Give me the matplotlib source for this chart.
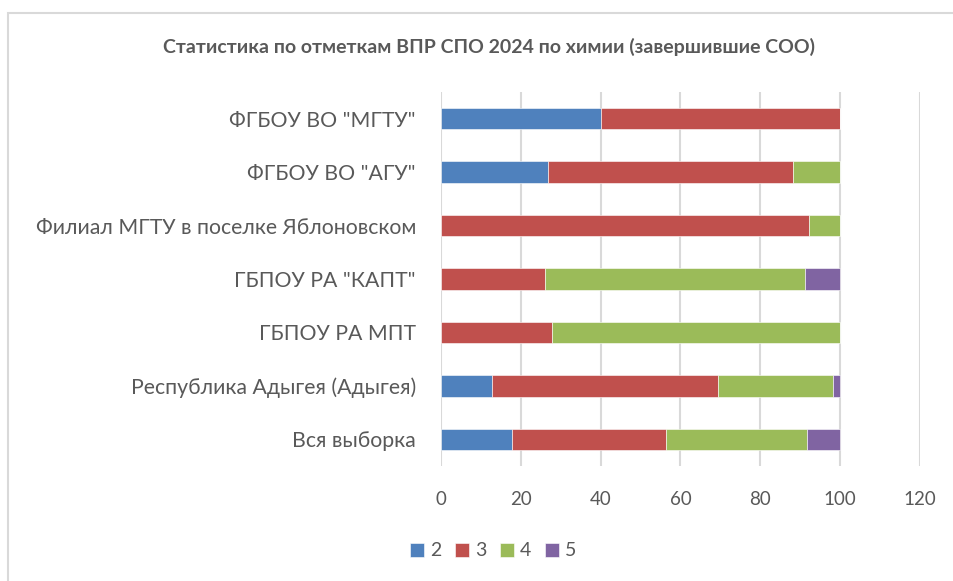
import matplotlib
matplotlib.use("Agg")
import matplotlib.pyplot as plt
from matplotlib.patches import Rectangle
import numpy as np

plt.rcParams['font.family'] = ['Lato', 'DejaVu Sans']

categories = ['Вся выборка', 'Республика Адыгея (Адыгея)', 'ГБПОУ РА МПТ',
              'ГБПОУ РА "КАПТ"', 'Филиал МГТУ в поселке Яблоновском',
              'ФГБОУ ВО "АГУ"', 'ФГБОУ ВО "МГТУ"']
series_names = ['2', '3', '4', '5']
s2 = [17.9, 12.8, 0.0, 0.0, 0.0, 26.9, 40.0]
s3 = [38.4, 56.5, 27.7, 26.0, 92.2, 61.4, 60.0]
s4 = [35.5, 29.0, 72.3, 65.2, 7.8, 11.7, 0.0]
s5 = [8.2, 1.7, 0.0, 8.8, 0.0, 0.0, 0.0]
x_ticks = [0, 20, 40, 60, 80, 100, 120]
title = 'Статистика по отметкам ВПР СПО 2024 по химии (завершившие СОО)'

colors = ['#4F81BD', '#C0504D', '#9BBB59', '#8064A2']
text_color = '#595959'

fig = plt.figure(figsize=(9.54, 5.81), dpi=100)
fig.patches.append(Rectangle((8/954, -0.1), 1.2, (581-13)/581 + 0.1, transform=fig.transFigure,
                             fill=False, edgecolor='#D9D9D9', linewidth=1.5, zorder=0))

ax = fig.add_axes([441/954, (581-466)/581, 479/954, 374/581])
y = np.arange(len(categories))
left = np.zeros(len(categories))
for vals, name, c in zip([s2, s3, s4, s5], series_names, colors):
    vals = np.array(vals)
    ax.barh(y, vals, left=left, height=0.4, color=c, label=name,
            edgecolor='white', linewidth=0.4, zorder=3)
    left += vals

ax.set_xlim(0, 120)
ax.set_ylim(-0.5, len(categories) - 0.5)
ax.set_xticks(x_ticks)
ax.set_xticklabels([str(t) for t in x_ticks])
ax.set_yticks(y)
ax.set_yticklabels(categories)
ax.tick_params(axis='both', length=0, colors=text_color)
ax.tick_params(axis='x', pad=18, labelsize=13.5)
ax.tick_params(axis='y', pad=18, labelsize=15.3)
ax.grid(axis='x', color='#D9D9D9', linewidth=1.5, zorder=0)
for sp in ax.spines.values():
    sp.set_visible(False)

fig.text(489/954, 1 - 47/581, title, ha='center', va='center',
         fontsize=14, fontweight='bold', color=text_color)

leg = fig.legend(loc='center', bbox_to_anchor=(493/954, 1 - 551/581), ncol=4,
                 frameon=False, fontsize=14, handlelength=0.72, handleheight=0.72,
                 handletextpad=0.32, columnspacing=0.7)
for t in leg.get_texts():
    t.set_color(text_color)

fig.savefig('out.png', dpi=100)
